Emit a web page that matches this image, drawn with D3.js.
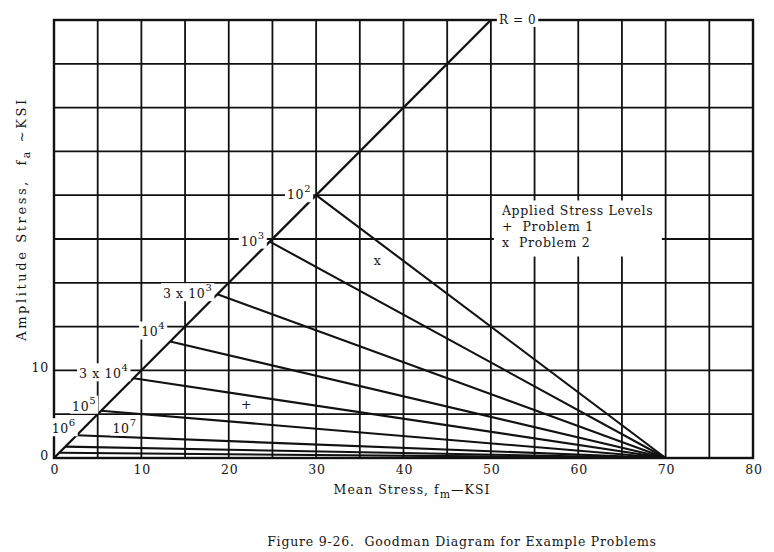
<!DOCTYPE html>
<html>
<head>
<meta charset="utf-8">
<script src="https://cdn.jsdelivr.net/npm/d3@7"></script>
<style>
  body { margin: 0; background: #fff; }
  svg text { font-family: "DejaVu Serif", "Liberation Serif", serif; fill: #151515; }
</style>
</head>
<body>
<div id="chart"></div>
<script>
// life lines (cycles) meeting the R = 0 line, all converging at ultimate strength
var lifeLabels = ["10|2", "10|3", "3 x 10|3", "10|4", "3 x 10|4", "10|5", "10|6", "", ""];
var lifeStress = [30, 24.7, 18.7, 13.3, 9.1, 5.4, 2.6, 1.3, 0.6];
var ultimateStress = 70;
var rZeroEnd = 50;
var xTickLabels = [0, 10, 20, 30, 40, 50, 60, 70, 80];
var yTickLabels = [0, 10];
var applied = [
  {name: "Problem 1", sym: "+", mean: 22, amp: 6},
  {name: "Problem 2", sym: "x", mean: 37, amp: 22.5}
];

var W = 774, H = 552,
  margin = {top: 20, right: 21, bottom: 94, left: 54},
  w = W - margin.left - margin.right,
  h = H - margin.top - margin.bottom;

var svg = d3.select("#chart").append("svg")
  .attr("width", W)
  .attr("height", H);

var x = d3.scaleLinear().domain([0, 80]).range([margin.left, margin.left + w]);
var y = d3.scaleLinear().domain([0, 50]).range([margin.top + h, margin.top]);

// grid every 5 ksi
var grid = svg.append("g").attr("stroke", "#111").attr("stroke-width", 1.8);
grid.selectAll(".vx").data(x.ticks(16)).enter().append("line")
  .attr("x1", d => x(d)).attr("x2", d => x(d))
  .attr("y1", y(0)).attr("y2", y(50));
grid.selectAll(".hy").data(y.ticks(10)).enter().append("line")
  .attr("x1", x(0)).attr("x2", x(80))
  .attr("y1", d => y(d)).attr("y2", d => y(d));

svg.append("rect")
  .attr("x", x(0)).attr("y", y(50))
  .attr("width", x(80) - x(0)).attr("height", y(0) - y(50))
  .attr("fill", "none").attr("stroke", "#111").attr("stroke-width", 2.4);

// constant life lines
svg.append("g").selectAll("line").data(lifeStress).enter().append("line")
  .attr("x1", d => x(d)).attr("y1", d => y(d))
  .attr("x2", x(ultimateStress)).attr("y2", y(0))
  .attr("stroke", "#111").attr("stroke-width", 2.1);

// R = 0 line
svg.append("line")
  .attr("x1", x(0)).attr("y1", y(0))
  .attr("x2", x(rZeroEnd)).attr("y2", y(rZeroEnd))
  .attr("stroke", "#111").attr("stroke-width", 2.3);

// labels with white backing that breaks the grid
function label(g, str, px, py, anchor, size) {
  var parts = str.split("|");
  var t = g.append("text")
    .attr("x", px).attr("y", py)
    .attr("text-anchor", anchor)
    .attr("font-size", size)
    .style("letter-spacing", "0.6px");
  t.append("tspan").text(parts[0]);
  if (parts[1]) {
    t.append("tspan").attr("dy", -7).attr("font-size", size * 0.8).text(parts[1]);
  }
  var b = t.node().getBBox();
  g.insert("rect", "text")
    .attr("x", b.x - 2).attr("y", b.y + 1)
    .attr("width", b.width + 4).attr("height", b.height - 1)
    .attr("fill", "#fff");
  return t;
}

var lab = svg.append("g");
var labelDy = [4, 4, 4, -5, 0, 0, -2];
lifeLabels.forEach(function(s, i) {
  if (!s) return;
  var a = lifeStress[i];
  var g = lab.append("g");
  label(g, s, x(a) - (i > 5 ? 1 : 5), y(a) + labelDy[i], "end", 12.5);
});
label(lab.append("g"), "10|7", x(6.7), y(2.9), "start", 12.5);
label(lab.append("g"), "R = 0", x(rZeroEnd) + 8, y(rZeroEnd) + 4, "start", 12);

// legend box
var lg = svg.append("g");
lg.append("rect")
  .attr("x", x(50) + 3).attr("y", y(29.4))
  .attr("width", 168).attr("height", y(23) - y(29.4))
  .attr("fill", "#fff");
lg.append("text").attr("x", x(50) + 11).attr("y", y(27.7)).attr("font-size", 12.5)
  .style("letter-spacing", "0.7px").text("Applied Stress Levels");
applied.forEach(function(p, i) {
  lg.append("text").attr("x", x(50) + 11).attr("y", y(27.7) + 16 * (i + 1)).attr("font-size", 12.5)
    .style("letter-spacing", "0.7px").attr("xml:space", "preserve")
    .text(p.sym + "  " + p.name);
});

// applied stress points
svg.append("g").selectAll("text").data(applied).enter().append("text")
  .attr("x", d => x(d.mean)).attr("y", d => y(d.amp) + 4)
  .attr("text-anchor", "middle").attr("font-size", 12.5)
  .text(d => d.sym);

// tick labels
svg.append("g").selectAll("text").data(xTickLabels).enter().append("text")
  .attr("x", d => x(d) + 1).attr("y", y(0) + 16)
  .attr("text-anchor", "middle").attr("font-size", 12.5)
  .style("letter-spacing", "0.8px")
  .text(d => d);
svg.append("g").selectAll("text").data(yTickLabels).enter().append("text")
  .attr("x", x(0) - 5).attr("y", d => y(d) + 2)
  .attr("text-anchor", "end").attr("font-size", 12.5)
  .style("letter-spacing", "0.8px")
  .text(d => d);

// axis titles
var xt = svg.append("text")
  .attr("x", 412).attr("y", y(0) + 36)
  .attr("text-anchor", "middle").attr("font-size", 12.5)
  .style("letter-spacing", "1px");
xt.append("tspan").text("Mean Stress,  f");
xt.append("tspan").attr("dy", 4).attr("font-size", 11).text("m");
xt.append("tspan").attr("dy", -4).text("\u2014KSI");

var yt = svg.append("text")
  .attr("transform", "translate(26," + 219 + ") rotate(-90)")
  .attr("text-anchor", "middle").attr("font-size", 13)
  .attr("xml:space", "preserve")
  .style("letter-spacing", "2.6px");
yt.append("tspan").text("Amplitude Stress,  f");
yt.append("tspan").attr("dy", 4).attr("font-size", 11).text("a");
yt.append("tspan").attr("dy", -4).text(" ~KSI");

// caption
svg.append("text")
  .attr("x", 462).attr("y", 546)
  .attr("text-anchor", "middle").attr("font-size", 12.5)
  .attr("xml:space", "preserve")
  .style("letter-spacing", "0.8px")
  .text("Figure 9-26.  Goodman Diagram for Example Problems");
</script>
</body>
</html>
